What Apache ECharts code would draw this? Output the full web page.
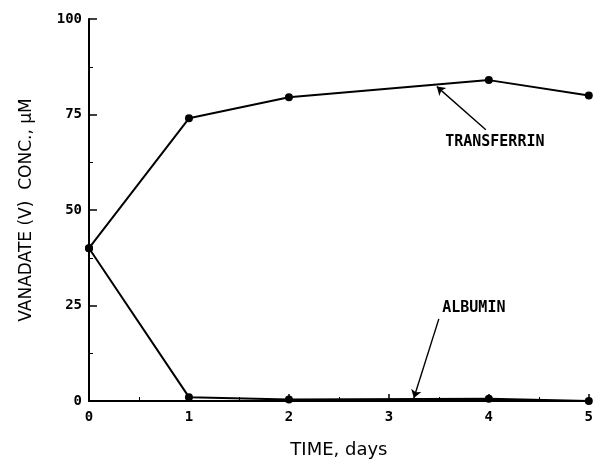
<!DOCTYPE html>
<html><head><meta charset="utf-8">
<script src="https://cdn.jsdelivr.net/npm/echarts@6/dist/echarts.min.js"></script>
<style>html,body{margin:0;padding:0;background:#fff}#c{width:596px;height:464px}</style>
</head><body><div id="c"></div>
<script>
const days = [0, 1, 2, 4, 5];
const transferrin = [40, 74, 79.5, 84, 80];
const albumin = [40, 1, 0.4, 0.6, 0];
const yTicks = [0, 25, 50, 75, 100];
const xTicks = [0, 1, 2, 3, 4, 5];

const chart = echarts.init(document.getElementById('c'));
const tickFont = {color:'#000', fontFamily:'DejaVu Sans Mono', fontWeight:'bold', fontSize:14};
const annFont = {color:'#000', fontFamily:'DejaVu Sans Mono', fontWeight:'bold', fontSize:15};
chart.setOption({
  animation:false,
  grid:{left:89, right:6, top:19, bottom:59},
  xAxis:{type:'value', min:xTicks[0], max:xTicks[xTicks.length-1], interval:1,
    name:'TIME, days', nameLocation:'middle', nameGap:40,
    nameTextStyle:{color:'#000', fontFamily:'DejaVu Sans', fontSize:18},
    axisLine:{lineStyle:{color:'#000', width:2}},
    axisTick:{inside:true, length:7, lineStyle:{color:'#000', width:1.5}},
    minorTick:{show:true, splitNumber:2, length:4, lineStyle:{color:'#000'}},
    axisLabel:Object.assign({margin:9}, tickFont),
    splitLine:{show:false}},
  yAxis:{type:'value', min:yTicks[0], max:yTicks[yTicks.length-1], interval:25,
    name:'VANADATE (V)  CONC., \u03bcM', nameLocation:'middle', nameGap:54,
    nameTextStyle:{color:'#000', fontFamily:'DejaVu Sans', fontSize:17},
    axisLine:{show:true, lineStyle:{color:'#000', width:2}},
    axisTick:{show:true, inside:true, length:8, lineStyle:{color:'#000', width:1.5}},
    minorTick:{show:true, splitNumber:2, length:4, lineStyle:{color:'#000'}},
    axisLabel:Object.assign({margin:7}, tickFont),
    splitLine:{show:false}},
  series:[
    {type:'line', name:'TRANSFERRIN', data:days.map((d,i)=>[d,transferrin[i]]),
      symbol:'circle', symbolSize:8, itemStyle:{color:'#000'}, lineStyle:{color:'#000', width:2},
      markLine:{silent:true, symbol:['none','arrow'], symbolSize:8, label:{show:false},
        lineStyle:{color:'#000', width:1.4, type:'solid'},
        data:[[{coord:[3.97,71]},{coord:[3.48,82.3]}]]},
      markPoint:{symbol:'circle', symbolSize:0, label:Object.assign({show:true, formatter:'TRANSFERRIN'}, annFont),
        data:[{coord:[4.06,67.8]}]}},
    {type:'line', name:'ALBUMIN', data:days.map((d,i)=>[d,albumin[i]]),
      symbol:'circle', symbolSize:8, itemStyle:{color:'#000'}, lineStyle:{color:'#000', width:2},
      markLine:{silent:true, symbol:['none','arrow'], symbolSize:8, label:{show:false},
        lineStyle:{color:'#000', width:1.4, type:'solid'},
        data:[[{coord:[3.5,21.5]},{coord:[3.25,0.8]}]]},
      markPoint:{symbol:'circle', symbolSize:0, label:Object.assign({show:true, formatter:'ALBUMIN'}, annFont),
        data:[{coord:[3.85,24.2]}]}}
  ]
});
</script></body></html>
